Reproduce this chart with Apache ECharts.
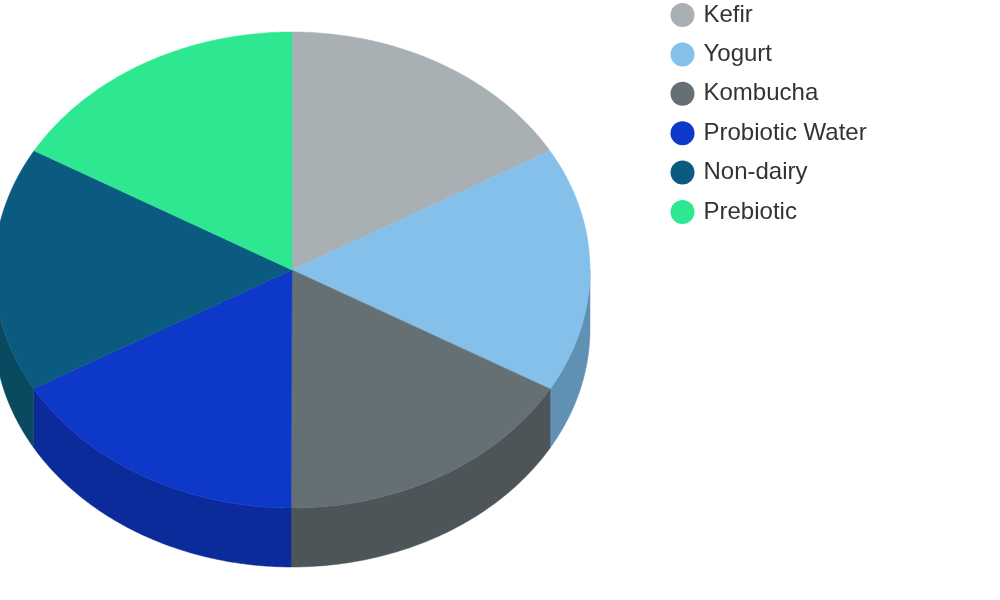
<!DOCTYPE html>
<html>
<head>
<meta charset="utf-8">
<style>html,body{margin:0;padding:0;background:#fff}#c{width:1000px;height:600px;filter:blur(0.4px)}</style>
<script src="https://cdn.jsdelivr.net/npm/echarts@6/dist/echarts.min.js"></script>
</head>
<body>
<div id="c"></div>
<script>
var categories = ['Kefir','Yogurt','Kombucha','Probiotic Water','Non-dairy','Prebiotic'];
var values = [16.66,16.67,16.72,16.65,16.65,16.65];
var topColors = ['#a9b0b3','#85c0ea','#657074','#0e38c8','#0b5b80','#2de890'];
var wallColors = ['#7f8486','#6090b3','#4e5558','#0c2b9b','#0a4a60','#22ae6c'];

var total = values.reduce(function(a,b){return a+b;},0);
var cx = 292, cy = 270, rx = 298, ry = 238, depth = 59;

function pt(a, dy){ return [cx + rx*Math.sin(a), cy - ry*Math.cos(a) + dy]; }
function arc(a1, a2, dy){
  var n = Math.max(2, Math.ceil((a2-a1)/0.01)), out = [];
  for (var i=0;i<=n;i++) out.push(pt(a1+(a2-a1)*i/n, dy));
  return out;
}
function startOf(idx){
  var s = 0;
  for (var i=0;i<idx;i++) s += values[i];
  return s/total*Math.PI*2;
}
function makeRender(idx){
  return function(params, api){
    var a1 = startOf(idx);
    var a2 = a1 + api.value(0)/total*Math.PI*2;
    var children = [];
    var w1 = Math.max(a1, Math.PI/2), w2 = Math.min(a2, Math.PI*1.5);
    if (w2 > w1) {
      var wall = arc(w1,w2,0).concat(arc(w1,w2,depth).reverse());
      children.push({type:'polygon', z2:1, shape:{points:wall}, style:{fill:wallColors[idx], stroke:wallColors[idx], lineWidth:0.5}});
    }
    var top = [[cx,cy]].concat(arc(a1,a2,0));
    children.push({type:'polygon', z2:2, shape:{points:top}, style:{fill:topColors[idx], stroke:topColors[idx], lineWidth:0.5}});
    return {type:'group', children:children};
  };
}
var series = categories.map(function(name,i){
  return {
    type:'custom', name:name, coordinateSystem:'none', silent:true, animation:false, clip:false,
    itemStyle:{color:topColors[i]},
    renderItem:makeRender(i),
    data:[[values[i]]]
  };
});
var chart = echarts.init(document.getElementById('c'), null, {renderer:'canvas'});
chart.setOption({
  animation:false,
  backgroundColor:'#ffffff',
  legend:{
    orient:'vertical', left:670.5, top:3, icon:'circle',
    itemWidth:24, itemHeight:24, itemGap:15.4, padding:0, selectedMode:false,
    textStyle:{fontFamily:'Liberation Sans', fontSize:24, color:'#333333', padding:[0,0,0,4]},
    data:categories
  },
  series:series
});
</script>
</body>
</html>
